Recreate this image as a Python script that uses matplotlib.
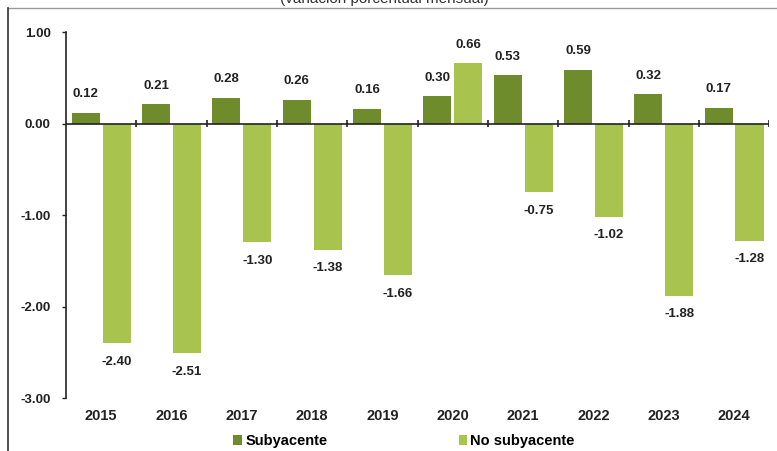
import numpy as np
import matplotlib
matplotlib.use("Agg")
import matplotlib.pyplot as plt
from matplotlib.lines import Line2D

years = ["2015", "2016", "2017", "2018", "2019", "2020", "2021", "2022", "2023", "2024"]
subyacente = [0.12, 0.21, 0.28, 0.26, 0.16, 0.30, 0.53, 0.59, 0.32, 0.17]
no_subyacente = [-2.40, -2.51, -1.30, -1.38, -1.66, 0.66, -0.75, -1.02, -1.88, -1.28]
yticks = [1.0, 0.0, -1.0, -2.0, -3.0]

dark = "#6e8c2c"
light = "#a8c34e"

plt.rcParams["font.family"] = ["Liberation Sans", "DejaVu Sans"]

fig = plt.figure(figsize=(7.77, 4.51), dpi=100)
ax = fig.add_axes([0.085, 0.1175, 0.905, 0.8115])

x = np.arange(len(years))
w = 0.4
b1 = ax.bar(x - 0.22, subyacente, w, color=dark, label="Subyacente")
b2 = ax.bar(x + 0.22, no_subyacente, w, color=light, label="No subyacente")

# value labels
for bars, vals in ((b1, subyacente), (b2, no_subyacente)):
    for rect, v in zip(bars, vals):
        cx = rect.get_x() + rect.get_width() / 2
        if v >= 0:
            ax.annotate(f"{v:.2f}", (cx, v), xytext=(0, 9), textcoords="offset points",
                        ha="center", va="bottom", fontsize=9.5, fontweight="bold", color="#222222")
        else:
            ax.annotate(f"{v:.2f}", (cx, v), xytext=(0, -9), textcoords="offset points",
                        ha="center", va="top", fontsize=9.5, fontweight="bold", color="#222222")

ax.set_xlim(-0.5, len(years) - 0.5)
ax.set_ylim(-3, 1)

# zero line with small category separators
ax.axhline(0, color="#222222", lw=1.2, zorder=3)
bounds = np.arange(len(years) + 1) - 0.5
ax.vlines(bounds[1:], -0.04, 0.04, color="#222222", lw=1.2, zorder=3)

for s in ("top", "right", "bottom"):
    ax.spines[s].set_visible(False)
ax.spines["left"].set_color("#222222")
ax.spines["left"].set_linewidth(1.2)

ax.set_yticks(yticks)
ax.set_yticklabels([f"{t:.2f}" for t in yticks], fontsize=9.5, fontweight="bold", color="#222222")
ax.tick_params(axis="y", length=3, width=1, color="#222222", pad=8)
ax.set_xticks(x)
ax.set_xticklabels(years, fontsize=10.5, fontweight="bold", color="#222222")
ax.tick_params(axis="x", length=0, pad=8)

fig.legend(handles=[b1, b2], loc="center", bbox_to_anchor=(0.52, 0.022), ncol=2, frameon=False,
           handlelength=0.6, handleheight=0.6, handletextpad=0.2, columnspacing=9,
           prop={"size": 10.5, "weight": "bold"})

fig.text(0.495, 1.003, "(variación porcentual mensual)", ha="center", va="center",
         fontsize=11, color="#333333")

# scanned frame
fig.add_artist(Line2D([0.0103, 1.0], [0.982, 0.982], transform=fig.transFigure, color="#999999", lw=1))
fig.add_artist(Line2D([0.0103, 0.0103], [0.0, 0.982], transform=fig.transFigure, color="#333333", lw=1.2))

fig.savefig("out.png", dpi=100)
